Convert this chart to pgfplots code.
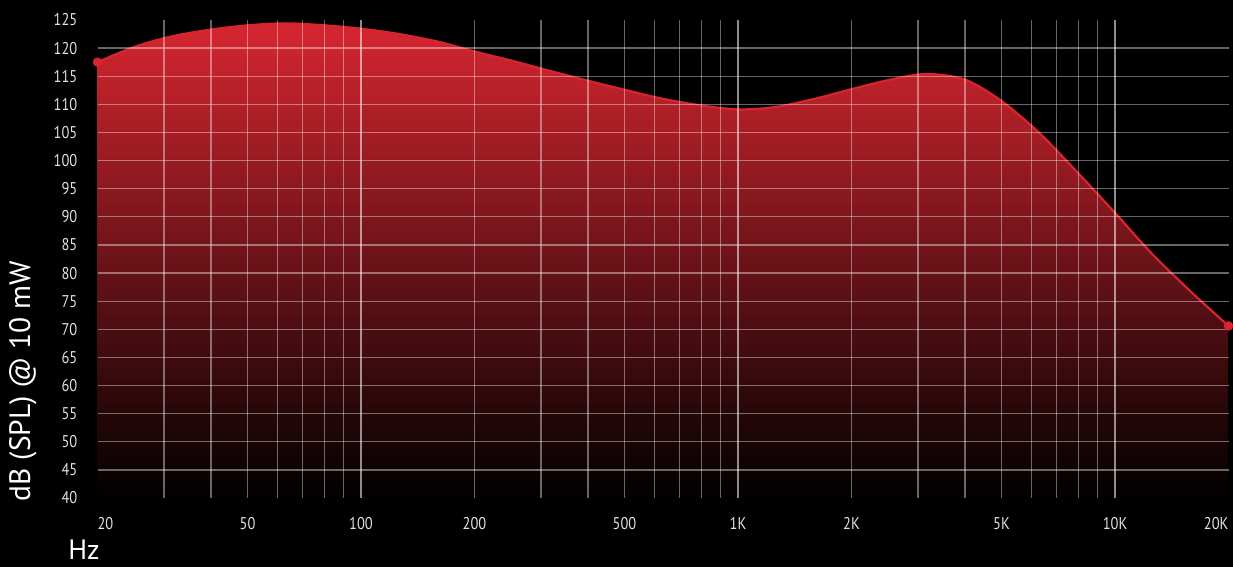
\documentclass[border=0pt]{standalone}
\usepackage{pgfplots}
\pgfplotsset{compat=1.18}
\usepackage{pgfplotstable}
\usepackage{fontspec}
\setmainfont{PT Sans}
\newfontfamily\tickfont{PT Sans}[FakeStretch=0.85]
\definecolor{cred}{RGB}{216,36,47}
\definecolor{ctop}{RGB}{214,38,48}
\definecolor{tickgray}{RGB}{225,225,225}

\pgfplotstableread{
f db
20 117.5
25 120.2
31.5 122.1
40 123.3
50 124.05
63 124.4
80 124.05
100 123.45
125 122.55
160 121.15
200 119.4
250 117.8
315 116.0
400 114.2
500 112.6
630 111.0
800 109.8
1000 109.1
1250 109.5
1600 111.0
2000 112.7
2500 114.3
3150 115.4
4000 114.4
5000 110.6
6300 104.9
8000 97.7
10000 90.7
12500 83.5
16000 76.5
20000 70.6
}\resp

\begin{document}
\begin{tikzpicture}
\fill[black] (-97.5pt,-69pt) rectangle (1135.5pt,498pt);
\begin{axis}[
  at={(0,0)}, anchor=south west,
  scale only axis, width=1131pt, height=478pt,
  xmode=log,
  xmin=20, xmax=20000, ymin=40, ymax=125,
  axis on top,
  axis line style={draw=none},
  tick style={draw=none},
  major tick length=0pt, minor tick length=0pt,
  /pgf/number format/assume math mode=true,
  xtick={20,50,100,200,500,1000,2000,5000,10000,20000},
  xticklabels={\rlap{20},50,100,200,500,1K,2K,5K,10K,\llap{20K}},
  minor xtick={30,40,50,60,70,80,90,200,300,400,500,600,700,800,900,2000,3000,4000,5000,6000,7000,8000,9000},
  xminorgrids=true,
  minor grid style={white, opacity=0.4, line width=1.3pt},
  extra x ticks={100,1000,10000},
  extra x tick labels={},
  extra x tick style={grid=major, major grid style={white, opacity=0.55, line width=2.4pt}},
  ytick={40,45,...,125},
  extra y ticks={45,50,...,120},
  extra y tick labels={},
  extra y tick style={grid=major, major grid style={white, opacity=0.4, line width=1.3pt}},
  tick label style={font=\tickfont\fontsize{17}{17}\selectfont, text=tickgray},
  yticklabel style={anchor=east, inner sep=0pt, xshift=-20pt},
  xticklabel style={anchor=north, inner sep=0pt, yshift=-19pt},
  ylabel={dB (SPL) @ 10 mW},
  ylabel style={at={(axis description cs:-0.066,0.245)}, anchor=center, font=\fontsize{29.5}{29.5}\selectfont, text=white},
  xlabel={Hz},
  xlabel style={at={(axis description cs:-0.012,-0.109)}, anchor=center, font=\fontsize{28}{28}\selectfont, text=white},
]
\addplot[draw=none, top color=ctop, bottom color=black, smooth] table[x=f, y=db] {\resp} -- (axis cs:20000,40) -- (axis cs:20,40) -- cycle;
\addplot[cred, line width=2.2pt, smooth] table[x=f, y=db] {\resp};
\addplot[only marks, mark=*, mark size=4.5pt, cred] coordinates {(20,117.5) (20000,70.6)};
\end{axis}
\end{tikzpicture}
\end{document}
